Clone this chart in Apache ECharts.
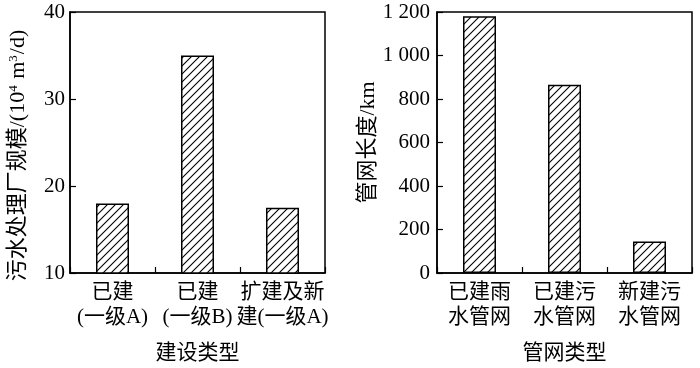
<!DOCTYPE html>
<html><head><meta charset="utf-8">
<script src="https://cdn.jsdelivr.net/npm/echarts@6/dist/echarts.min.js"></script>
<style>html,body{margin:0;padding:0;background:#fff}#c{width:700px;height:368px}</style>
</head><body><div id="c"></div>
<script>
const leftCategories = ['已建\n(一级A)', '已建\n(一级B)', '扩建及新\n建(一级A)'];
const leftValues = [18, 35, 17.5];
const rightCategories = ['已建雨\n水管网', '已建污\n水管网', '新建污\n水管网'];
const rightValues = [1180, 866, 145];

const FONT = '"Liberation Serif", "Noto Sans CJK SC", serif';

function hatch() {
  const s = 8;
  const cv = document.createElement('canvas');
  cv.width = s; cv.height = s;
  const g = cv.getContext('2d');
  g.fillStyle = '#fff'; g.fillRect(0, 0, s, s);
  g.strokeStyle = '#000'; g.lineWidth = 1.1;
  g.beginPath();
  g.moveTo(-1, s + 1); g.lineTo(s + 1, -1);
  g.moveTo(-1, 1); g.lineTo(1, -1);
  g.moveTo(s - 1, s + 1); g.lineTo(s + 1, s - 1);
  g.stroke();
  return cv;
}
const pat = { image: hatch(), repeat: 'repeat' };

const chart = echarts.init(document.getElementById('c'), null, { renderer: 'canvas' });
const axisLine = { show: true, lineStyle: { color: '#000', width: 1.5 } };
const tick = { show: true, inside: true, length: 6, lineStyle: { color: '#000', width: 1.2 } };
const lbl = { color: '#000', fontSize: 21, fontFamily: FONT };

function xAxis(idx, cats, name) {
  return {
    type: 'category', gridIndex: idx, data: cats,
    axisLine: axisLine, axisTick: tick,
    axisLabel: Object.assign({ margin: 7, lineHeight: 25, interval: 0 }, lbl),
    name: name, nameLocation: 'middle', nameGap: 70,
    nameTextStyle: { color: '#000', fontSize: 21, fontFamily: FONT }
  };
}
function yAxis(idx, min, max, interval, name, gap, margin, rich, pad) {
  return {
    type: 'value', gridIndex: idx, min: min, max: max, interval: interval,
    axisLine: axisLine, axisTick: tick, splitLine: { show: false },
    axisLabel: Object.assign({ margin: margin,
      formatter: v => String(v).replace(/\B(?=(\d{3})+(?!\d))/g, ' ') }, lbl),
    name: name, nameLocation: 'middle', nameGap: gap, nameRotate: 90,
    nameTextStyle: { color: '#000', fontSize: 22, fontFamily: FONT, rich: rich, padding: pad }
  };
}
const supRich = {
  sup: { fontSize: 13, fontFamily: FONT, color: '#000', verticalAlign: 'top', padding: [0, 1, 10, 0] }
};

chart.setOption({
  animation: false,
  backgroundColor: '#fff',
  grid: [
    { left: 70, top: 12, width: 255, height: 261, show: true, borderColor: '#000', borderWidth: 1.5,
      containLabel: false, outerBoundsMode: 'none' },
    { left: 437, top: 12, width: 255, height: 261, show: true, borderColor: '#000', borderWidth: 1.5,
      containLabel: false, outerBoundsMode: 'none' }
  ],
  xAxis: [xAxis(0, leftCategories, '建设类型'), xAxis(1, rightCategories, '管网类型')],
  yAxis: [
    yAxis(0, 10, 40, 10, '污水处理厂规模/(10{sup|4} m{sup|3}/d)', 40, 5, supRich, [0, 26, 0, 0]),
    yAxis(1, 0, 1200, 200, '管网长度/km', 56, 7, {}, [0, 0, 0, 0])
  ],
  series: [
    { type: 'bar', xAxisIndex: 0, yAxisIndex: 0, data: leftValues, barWidth: 33,
      itemStyle: { color: pat, borderColor: '#000', borderWidth: 1.5 } },
    { type: 'bar', xAxisIndex: 1, yAxisIndex: 1, data: rightValues, barWidth: 33,
      itemStyle: { color: pat, borderColor: '#000', borderWidth: 1.5 } }
  ]
});
</script></body></html>
